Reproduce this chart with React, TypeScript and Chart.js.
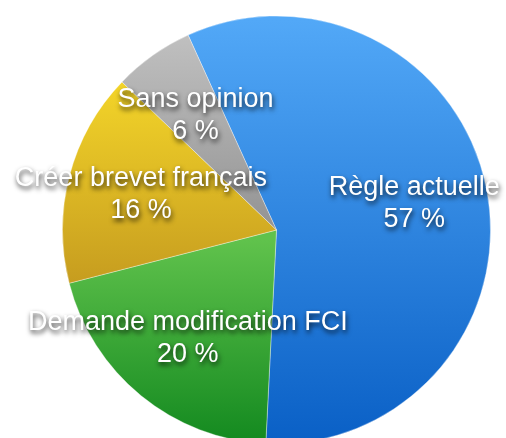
import React, { useEffect, useRef } from "react";
import { Chart, registerables } from "chart.js";

Chart.register(...registerables);

const categories = ["Règle actuelle", "Demande modification FCI", "Créer brevet français", "Sans opinion"];
const values = [57, 20, 16, 6];
const gradientTops = ["#52a8f7", "#60c24c", "#f6d82a", "#c2c2c2"];
const gradientBottoms = ["#0a60c6", "#148a20", "#c69c1f", "#929292"];
const gradientRanges: [number, number][] = [
  [20, 440],
  [240, 440],
  [70, 285],
  [25, 235],
];

const labelPlugin = {
  id: "sliceLabels",
  afterDatasetsDraw(chart: any) {
    const ctx = chart.ctx as CanvasRenderingContext2D;
    const meta = chart.getDatasetMeta(0);
    ctx.save();
    ctx.font = '27px "Liberation Sans", Arial, sans-serif';
    ctx.textAlign = "center";
    ctx.textBaseline = "middle";
    ctx.fillStyle = "#ffffff";
    ctx.shadowColor = "rgba(0,0,0,0.8)";
    ctx.shadowBlur = 5;
    ctx.shadowOffsetX = 1;
    ctx.shadowOffsetY = 3;
    meta.data.forEach((arc: any, i: number) => {
      const p = arc.getProps(["x", "y", "startAngle", "endAngle", "outerRadius"], true);
      const mid = (p.startAngle + p.endAngle) / 2;
      const r = p.outerRadius * 0.655;
      const x = p.x + Math.cos(mid) * r;
      const y = p.y + Math.sin(mid) * r;
      ctx.fillText(categories[i], x, y - 16);
      ctx.fillText(`${values[i]} %`, x, y + 16);
    });
    ctx.restore();
  },
};

export default function App() {
  const ref = useRef<HTMLCanvasElement>(null);
  useEffect(() => {
    if (!ref.current) return;
    const chart = new Chart(ref.current, {
      type: "pie",
      data: {
        labels: categories,
        datasets: [
          {
            data: values,
            backgroundColor: (c: any) => {
              const i = c.dataIndex;
              const ctx = c.chart.ctx as CanvasRenderingContext2D;
              const [y0, y1] = gradientRanges[i];
              const g = ctx.createLinearGradient(0, y0, 0, y1);
              g.addColorStop(0, gradientTops[i]);
              g.addColorStop(1, gradientBottoms[i]);
              return g;
            },
            borderWidth: 1,
            borderColor: "rgba(255,255,255,0.35)",
          },
        ],
      },
      options: {
        responsive: false,
        animation: false,
        rotation: -24.4,
        layout: { padding: { left: 62, right: 15, top: 15.5, bottom: 15.5 } },
        plugins: {
          legend: { display: false },
          tooltip: { enabled: false },
        },
      },
      plugins: [labelPlugin],
    });
    return () => chart.destroy();
  }, []);
  return (
    <div style={{ position: "fixed", left: 0, top: 0, width: 506, height: 460, background: "#fff" }}>
      <canvas ref={ref} width={506} height={460} style={{ display: "block" }} />
    </div>
  );
}
